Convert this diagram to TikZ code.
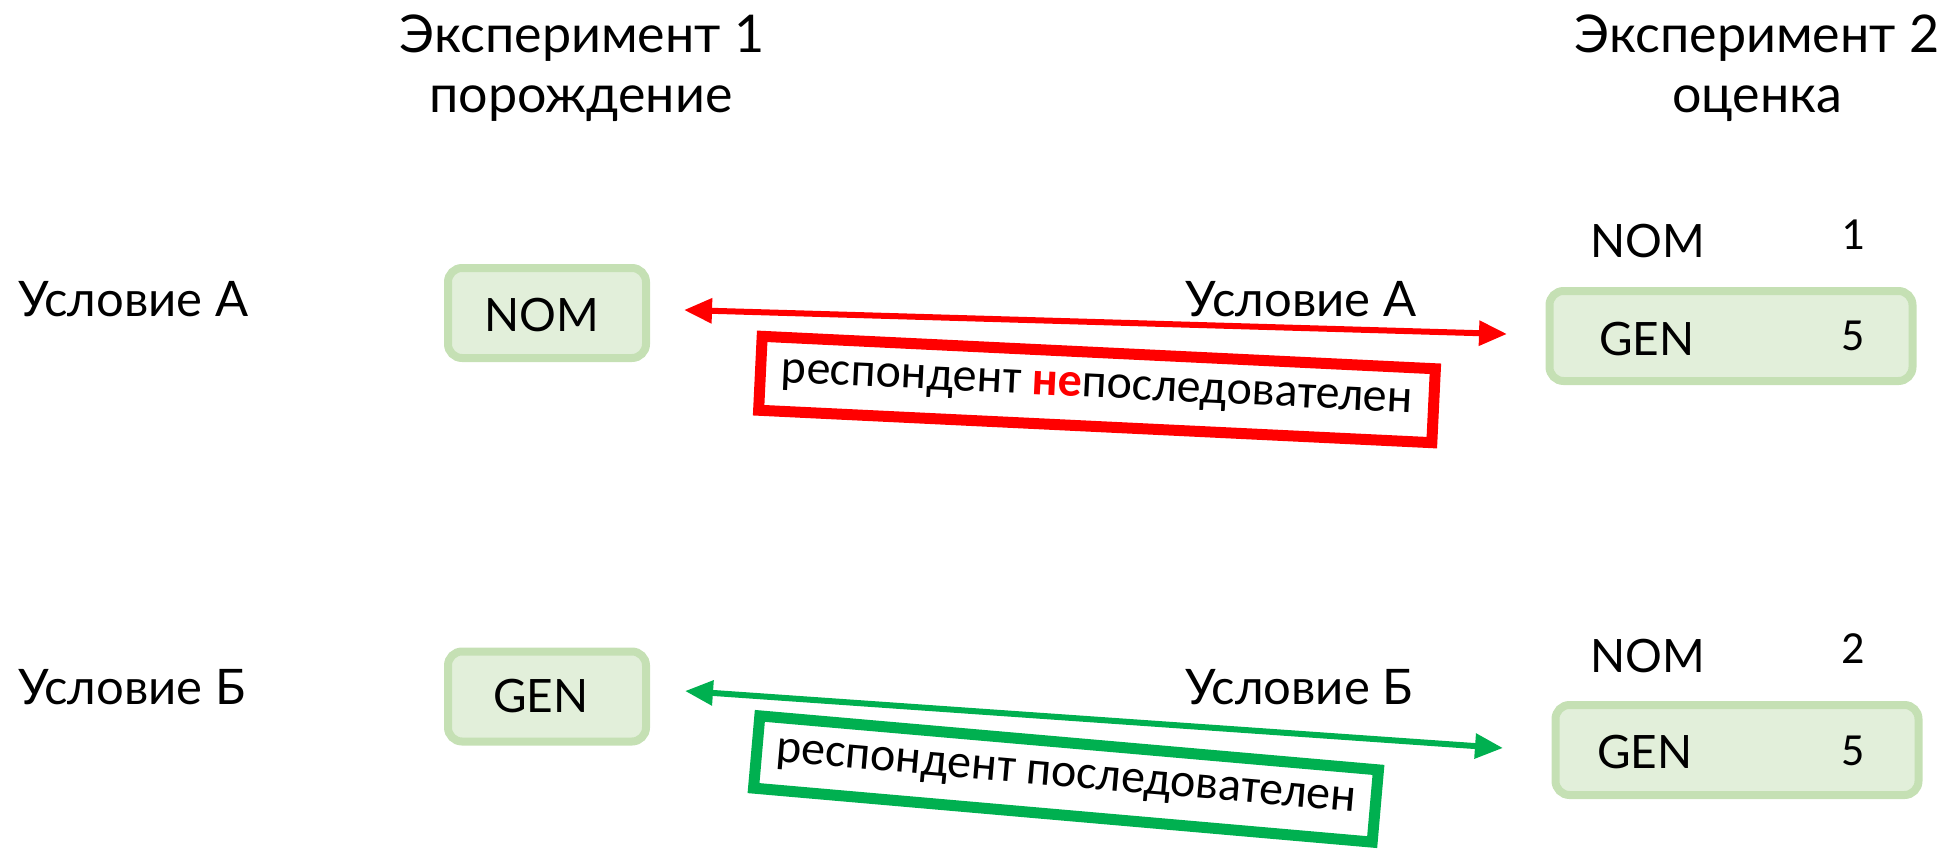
\documentclass[tikz,border=0pt]{standalone}
\usepackage{fontspec}
\setmainfont{Lato}
\newfontfamily\calfont{Carlito}
\usetikzlibrary{arrows.meta}
\definecolor{boxfill}{HTML}{E2EFDA}
\definecolor{boxline}{HTML}{C5E0B4}
\definecolor{okgreen}{HTML}{00B050}
\definecolor{badred}{HTML}{FF0000}
\tikzset{
  lbl/.style={inner sep=0pt, anchor=base, font=\fontsize{46}{55}\selectfont},
  cond/.style={inner sep=0pt, anchor=base, font=\fontsize{49}{58}\selectfont},
  head/.style={inner sep=0pt, anchor=base, font=\fontsize{52}{60}\selectfont},
  casebox/.style={draw=boxline, fill=boxfill, line width=8pt, rounded corners=14pt, inner sep=0pt},
  link/.style={line width=6pt, {Triangle[length=28pt,width=24pt]}-{Triangle[length=28pt,width=24pt]}},
  verdict/.style={line width=11pt, inner sep=0pt, font=\calfont\fontsize{48}{54}\selectfont},
  digit/.style={inner sep=0pt, anchor=base, font=\calfont\fontsize{46}{54}\selectfont},
}
\begin{document}
\begin{tikzpicture}[x=1pt,y=-1pt]
\useasboundingbox (0,0) rectangle (1947,851);
% headers
\node[head] (h1a) at (582,53) {Эксперимент 1};
\node[head] (h1b) at (581,113) {порождение};
\node[head] (h2a) at (1757,53) {Эксперимент 2};
\node[head] (h2b) at (1757,113) {оценка};
% left labels
\node[cond, anchor=base west] (condA) at (18,316) {Условие А};
\node[cond, anchor=base west] (condB) at (18,704) {Условие Б};
% left boxes
\node[casebox, minimum width=198pt, minimum height=90pt] (nomL) at (547,313) {};
\node[lbl] (nomLt) at (542,331) {NOM};
\node[casebox, minimum width=198pt, minimum height=90pt] (genL) at (547,696.5) {};
\node[lbl] (genLt) at (541,712) {GEN};
% right top
\node[lbl] (nomR1) at (1648,257) {NOM};
\node[digit] (one) at (1853,249) {1};
\node[casebox, minimum width=363pt, minimum height=90pt] (boxR1) at (1731,336) {};
\node[lbl] (genR1) at (1647,355) {GEN};
\node[digit] (fiveA) at (1853,350) {5};
% right bottom
\node[lbl] (nomR2) at (1648,672) {NOM};
\node[digit] (two) at (1853,663) {2};
\node[casebox, minimum width=363pt, minimum height=90pt] (boxR2) at (1737,750) {};
\node[lbl] (genR2) at (1645,768) {GEN};
\node[digit] (fiveB) at (1853,765) {5};
% arrows
\coordinate (aL) at (684,310);
\coordinate (aR) at (1507,334);
\coordinate (bL) at (685,691);
\coordinate (bR) at (1503,748);
\draw[link, draw=badred, fill=badred] (aL) -- (aR);
\draw[link, draw=okgreen, fill=okgreen] (bL) -- (bR);
\node[cond] (midA) at (1301,316) {Условие А};
\node[cond] (midB) at (1299,704) {Условие Б};
% verdict boxes
\node[verdict, draw=badred, rotate=-2.76, minimum width=674pt, minimum height=74pt] (bad) at (1097,389.5)
  {респондент \textcolor{badred}{\bfseries не}последователен};
\node[verdict, draw=okgreen, rotate=-4.99, minimum width=621pt, minimum height=72.5pt] (good) at (1066,779)
  {респондент последователен};
\end{tikzpicture}
\end{document}
